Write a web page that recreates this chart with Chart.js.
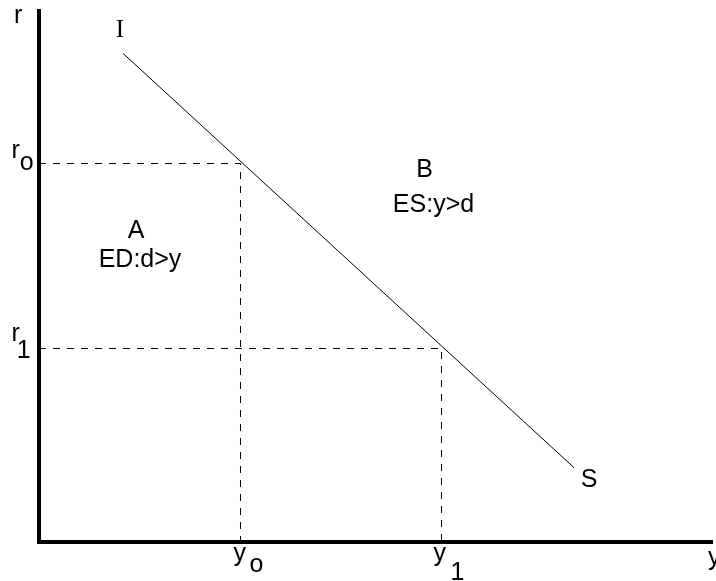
<!DOCTYPE html>
<html><head><meta charset="utf-8">
<script src="https://cdn.jsdelivr.net/npm/chart.js@4/dist/chart.umd.min.js"></script>
<style>html,body{margin:0;padding:0;background:#fff;overflow:hidden}#wrap{width:716px;height:581px}</style>
</head><body><div id="wrap"><canvas id="c" width="716" height="581"></canvas></div>
<script>
// IS curve end points (output, interest rate)
const curveX = [1.25, 7.95];
const curveY = [9.2, 1.4];
// marked points on the IS curve
const eqOutput = [2.994, 5.981];   // y0, y1
const eqRate = [7.128, 3.644];     // r0, r1
// tick labels: [main, subscript]
const xTickLabels = [['y', 'o'], ['y', '1']];
const yTickLabels = [['r', 'o'], ['r', '1']];
const curveLabels = ['I', 'S'];
const regionLabels = [['A', 'ED:d>y'], ['B', 'ES:y>d']];
const axisNames = { x: 'y', y: 'r' };

const SANS = '"Liberation Sans", Arial, sans-serif';
const FONT = '25px ' + SANS;

const datasets = [{
  data: curveX.map((v, i) => ({ x: v, y: curveY[i] })),
  showLine: true, borderColor: '#000', borderWidth: 1, pointRadius: 0, fill: false
}];
eqOutput.forEach((v, i) => {
  datasets.push({
    data: [{ x: 0, y: eqRate[i] }, { x: v, y: eqRate[i] }, { x: v, y: 0 }],
    showLine: true, borderColor: '#000', borderWidth: 1, borderDash: [7, 7],
    pointRadius: 0, fill: false
  });
});

const labelPlugin = {
  id: 'diagramLabels',
  afterDraw(chart, args, o) {
    const { ctx, chartArea: ca } = chart;
    const sx = chart.scales.x, sy = chart.scales.y;
    ctx.save();
    ctx.fillStyle = '#000';
    ctx.font = FONT;
    ctx.textAlign = 'left';
    ctx.textBaseline = 'alphabetic';
    // x tick labels with subscripts
    eqOutput.forEach((v, i) => {
      const px = sx.getPixelForValue(v);
      const [m, s] = xTickLabels[i];
      const base = ca.bottom + o.xTickBase;
      const x0 = px + o.xTickDx[i];
      ctx.fillText(m, x0, base);
      ctx.fillText(s, x0 + ctx.measureText(m).width + o.xSubGap[i], base + o.xSubDy[i]);
    });
    // y tick labels with subscripts
    eqRate.forEach((v, i) => {
      const py = sy.getPixelForValue(v);
      const [m, s] = yTickLabels[i];
      const base = py + o.yTickBase[i];
      const x0 = ca.left + o.yTickDx;
      ctx.fillText(m, x0, base);
      ctx.fillText(s, x0 + ctx.measureText(m).width + o.ySubGap[i], base + o.ySubDy[i]);
    });
    // axis names
    ctx.fillText(axisNames.y, ca.left + o.yNameDx, ca.top + o.yNameDy);
    ctx.fillText(axisNames.x, ca.right + o.xNameDx, ca.bottom + o.xNameDy);
    // curve end labels and region labels
    ctx.textAlign = 'center';
    curveLabels.forEach((t, i) => {
      const p = o.curveLabelAt[i];
      ctx.font = o.curveFonts[i];
      ctx.fillText(t, sx.getPixelForValue(p.x), sy.getPixelForValue(p.y));
    });
    ctx.font = FONT;
    regionLabels.forEach((lines, i) => {
      lines.forEach((t, j) => {
        const p = o.regionAt[i][j];
        ctx.fillText(t, sx.getPixelForValue(p.x), sy.getPixelForValue(p.y));
      });
    });
    ctx.restore();
  }
};

const axisOpts = {
  type: 'linear', min: 0, max: 10,
  grid: { display: false, drawTicks: false },
  ticks: { display: false },
  border: { display: true, width: 4, color: '#000' }
};

new Chart(document.getElementById('c'), {
  type: 'scatter',
  data: { datasets },
  options: {
    responsive: false, animation: false, devicePixelRatio: 1,
    layout: { padding: { left: 39, top: 11, right: 4, bottom: 39 } },
    scales: { x: { ...axisOpts }, y: { ...axisOpts } },
    plugins: {
      legend: { display: false }, tooltip: { enabled: false },
      diagramLabels: {
        xTickBase: 19, xTickDx: [-7, -8], xSubGap: [3.5, 4.5], xSubDy: [11, 19],
        yTickBase: [-6, -8], yTickDx: -27.5, ySubGap: [0, -3], ySubDy: [12, 17],
        yNameDx: -25, yNameDy: 12,
        xNameDx: -4, xNameDy: 23,
        curveFonts: ['25px "Liberation Serif", "Times New Roman", serif', FONT],
        curveLabelAt: [{ x: 1.204, y: 9.51 }, { x: 8.172, y: 1.036 }],
        regionAt: [
          [{ x: 1.441, y: 5.725 }, { x: 1.501, y: 5.179 }],
          [{ x: 5.728, y: 6.874 }, { x: 5.862, y: 6.215 }]
        ]
      }
    }
  },
  plugins: [labelPlugin]
});
</script></body></html>
